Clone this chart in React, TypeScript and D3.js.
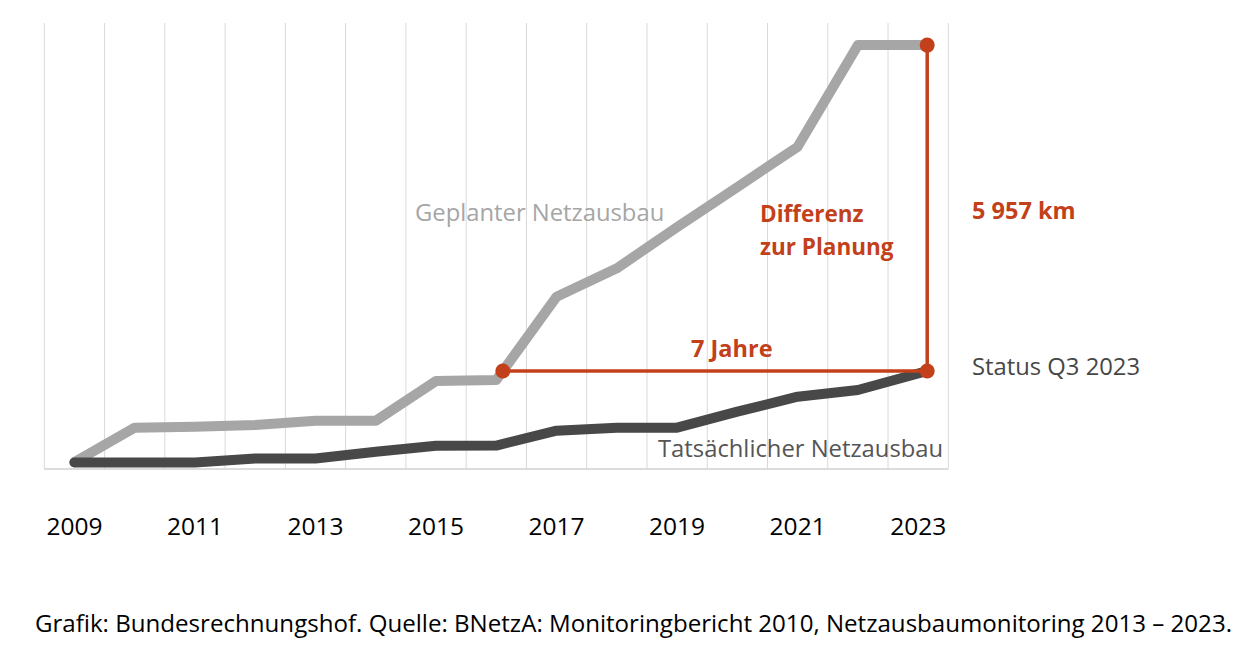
import React from "react";
import * as d3 from "d3";

// ---- data (km of grid expansion) ----
const years = [2009, 2010, 2011, 2012, 2013, 2014, 2015, 2016, 2017, 2018, 2019, 2020, 2021, 2022, 2023.15];
const planned = [125, 755, 773, 804, 882, 882, 1608, 1626, 3148, 3667, 4421, 5152, 5888, 7746, 7746];
const actual = [119, 119, 119, 192, 192, 316, 426, 429, 700, 755, 755, 1047, 1321, 1443, 1790];
const tickYears = [2009, 2011, 2013, 2015, 2017, 2019, 2021, 2023];
const gapKm = "5 957 km";
const gapYears = "7 Jahre";
const footer = "Grafik: Bundesrechnungshof. Quelle: BNetzA: Monitoringbericht 2010, Netzausbaumonitoring 2013 – 2023.";

const W = 1260;
const H = 652;
const RED = "#C2401A";
const FONT = "'Open Sans', 'DejaVu Sans', sans-serif";

export default function App() {
  const x = d3.scaleLinear().domain([2008.5, 2023.5]).range([44.3, 948.3]);
  const y = d3.scaleLinear().domain([0, 8150]).range([469, 23]);

  const line = d3
    .line<number>()
    .x((_, i) => x(years[i]))
    .y((v) => y(v));

  const n = years.length;
  const lastYear = years[n - 1];
  const statusKm = actual[n - 1];
  const planEnd = planned[n - 1];

  // find year where planned first reached today's actual value
  let crossYear = years[0];
  for (let i = 1; i < n; i++) {
    if (planned[i - 1] < statusKm && planned[i] >= statusKm) {
      const t = (statusKm - planned[i - 1]) / (planned[i] - planned[i - 1]);
      crossYear = years[i - 1] + t * (years[i] - years[i - 1]);
      break;
    }
  }

  const gridYears = d3.range(2008.5, 2024, 1);

  return (
    <svg
      width={W}
      height={H}
      style={{ position: "absolute", left: 0, top: 0, background: "#fff" }}
      fontFamily={FONT}
    >
      <rect x={0} y={0} width={W} height={H} fill="#fff" />
      {gridYears.map((g) => (
        <line key={g} x1={x(g)} x2={x(g)} y1={y.range()[1]} y2={y(0)} stroke="#D9D9D9" strokeWidth={1} />
      ))}
      <line x1={x(2008.5)} x2={x(2023.5)} y1={y(0)} y2={y(0)} stroke="#D0D0D0" strokeWidth={1.5} />

      <path d={line(planned) || ""} fill="none" stroke="#A6A6A6" strokeWidth={10} strokeLinejoin="round" strokeLinecap="round" />
      <path d={line(actual) || ""} fill="none" stroke="#484848" strokeWidth={10} strokeLinejoin="round" strokeLinecap="round" />

      {/* annotation */}
      <line x1={x(crossYear)} x2={x(lastYear)} y1={y(statusKm)} y2={y(statusKm)} stroke={RED} strokeWidth={3.5} />
      <line x1={x(lastYear)} x2={x(lastYear)} y1={y(statusKm)} y2={y(planEnd)} stroke={RED} strokeWidth={3.5} />
      <circle cx={x(crossYear)} cy={y(statusKm)} r={7.5} fill={RED} />
      <circle cx={x(lastYear)} cy={y(statusKm)} r={7.5} fill={RED} />
      <circle cx={x(lastYear)} cy={y(planEnd)} r={7.5} fill={RED} />

      {tickYears.map((t) => (
        <text key={t} x={x(t)} y={535} textAnchor="middle" fontSize={24.5} fill="#000">
          {t}
        </text>
      ))}

      <text x={415} y={221} fontSize={23.8} fill="#A6A6A6">Geplanter Netzausbau</text>
      <text x={658} y={457} fontSize={23.8} fill="#555555">Tatsächlicher Netzausbau</text>
      <text x={972} y={375} fontSize={23.8} fill="#474747">Status Q3 2023</text>
      <text x={760} y={222} fontSize={22.5} fontWeight={700} fill={RED}>Differenz</text>
      <text x={760} y={255} fontSize={22.5} fontWeight={700} fill={RED}>zur Planung</text>
      <text x={972} y={219} fontSize={23.5} fontWeight={700} fill={RED}>{gapKm}</text>
      <text x={691} y={357} fontSize={23.5} fontWeight={700} fill={RED}>{gapYears}</text>

      <text x={35} y={632} fontSize={23} textLength={1197} lengthAdjust="spacingAndGlyphs" fill="#000">{footer}</text>
    </svg>
  );
}
